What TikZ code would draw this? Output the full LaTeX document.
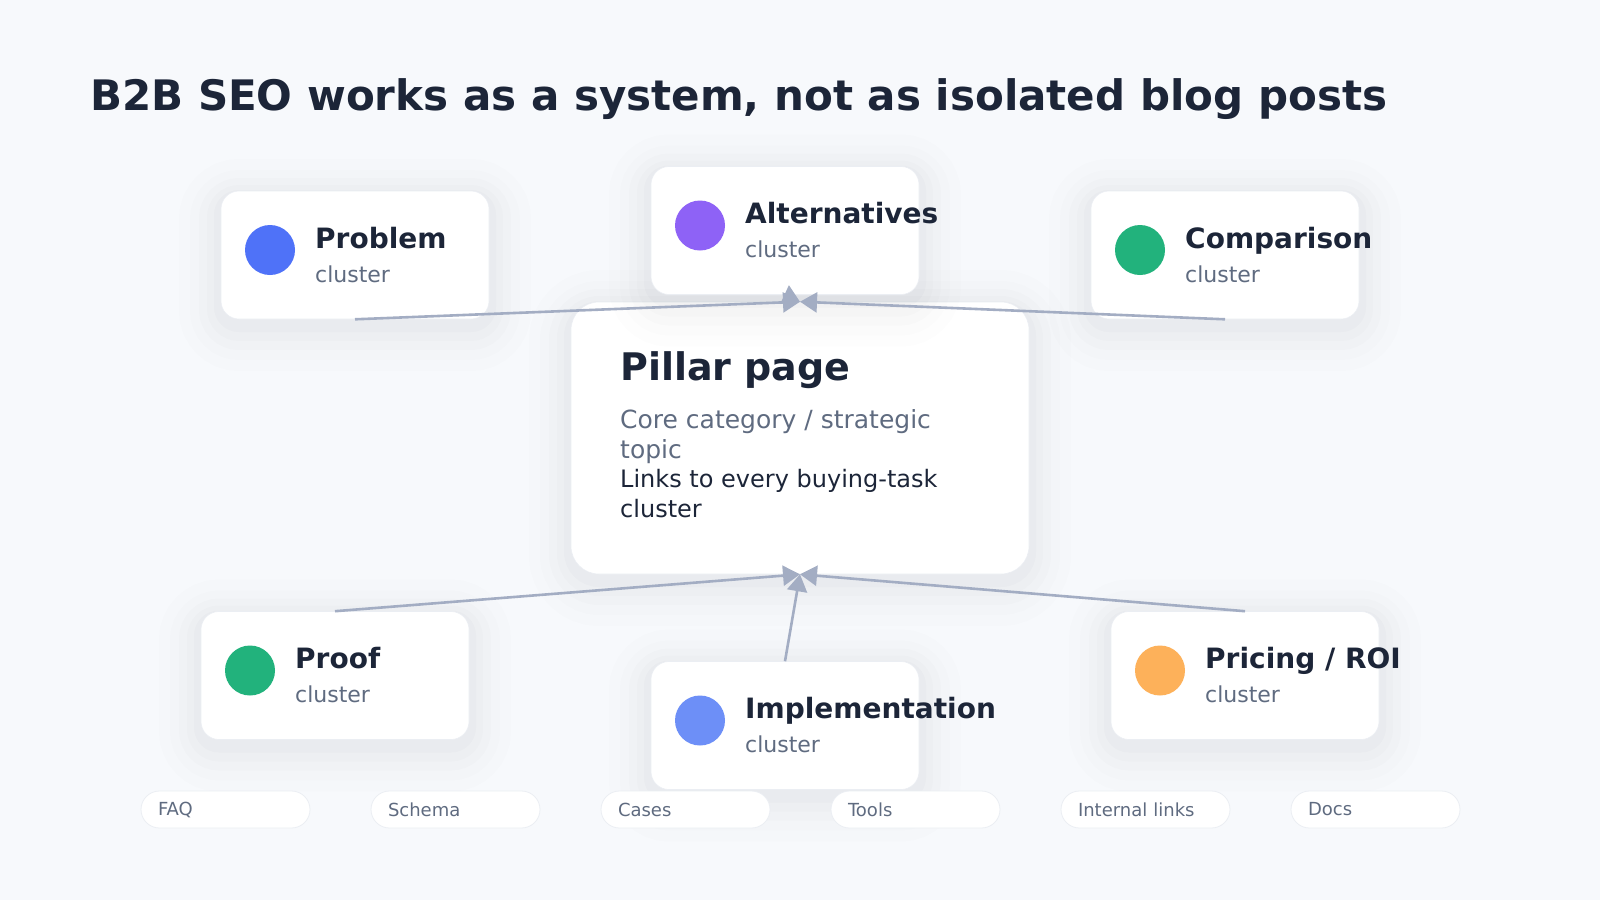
\documentclass[tikz,border=0pt]{standalone}
\usepackage{fontspec}
\setmainfont{DejaVu Sans}
\usetikzlibrary{positioning,arrows.meta,calc}

\definecolor{pagebg}{HTML}{F7F9FC}
\definecolor{ink}{HTML}{1C2538}
\definecolor{muted}{HTML}{5F6B80}
\definecolor{edgegray}{HTML}{A3ADC3}
\definecolor{cardline}{HTML}{EBEEF3}
\definecolor{shade}{HTML}{1C2538}
\definecolor{cblue}{HTML}{4F72F8}
\definecolor{cpurple}{HTML}{8E62F6}
\definecolor{cgreen}{HTML}{22B27C}
\definecolor{corange}{HTML}{FDB15A}
\definecolor{clblue}{HTML}{6D8FF7}

\tikzset{
  >={Triangle[length=17pt,width=20pt]},
  softshadow/.style={
    preaction={draw=shade,draw opacity=0.008,line width=84pt,transform canvas={yshift=-10pt}},
    preaction={draw=shade,draw opacity=0.009,line width=62pt,transform canvas={yshift=-10pt}},
    preaction={draw=shade,draw opacity=0.010,line width=44pt,transform canvas={yshift=-9pt}},
    preaction={draw=shade,draw opacity=0.012,line width=28pt,transform canvas={yshift=-8pt}},
    preaction={draw=shade,draw opacity=0.014,line width=14pt,transform canvas={yshift=-6pt}}},
  card/.style={rounded corners=18pt,fill=white,draw=cardline,line width=0.6pt,
    minimum width=268pt,minimum height=128pt,inner sep=0pt,softshadow},
  pillarbox/.style={card,rounded corners=28pt,minimum width=458pt,minimum height=272pt},
  dot/.style={circle,inner sep=0pt,minimum size=50pt},
  cardttl/.style={anchor=base west,inner sep=0pt,text=ink,
    font=\fontsize{28}{34}\selectfont\bfseries},
  cardsub/.style={anchor=base west,inner sep=0pt,text=muted,
    font=\fontsize{22}{26}\selectfont},
  pill/.style={rounded corners=18.5pt,fill=white,draw=cardline,line width=0.8pt,
    minimum width=169pt,minimum height=37pt,text width=135pt,align=left,
    inner xsep=17pt,inner ysep=0pt,text=muted,font=\fontsize{18}{22}\selectfont},
  link/.style={->,draw=edgegray,fill=edgegray,line width=2.6pt},
}

\begin{document}
\begin{tikzpicture}[x=1pt,y=-1pt]
  \fill[pagebg] (0,0) rectangle (1600,900);
  \useasboundingbox (0,0) rectangle (1600,900);

  \node[anchor=base west,inner sep=0pt,text=ink,font=\fontsize{42}{50}\selectfont\bfseries]
    (title) at (90,110) {B2B SEO works as a system, not as isolated blog posts};

  % pillar
  \node[pillarbox] (pillar) at (800,438) {};
  \node[anchor=base west,inner sep=0pt,text=ink,font=\fontsize{38}{46}\selectfont\bfseries]
    (pillarttl) at (620,380) {Pillar page};
  \node[anchor=base west,inner sep=0pt,text=muted,align=left,
    font=\fontsize{25}{29.5}\selectfont] (pillarsub) at (620,458)
    {Core category / strategic\\topic};
  \node[anchor=base west,inner sep=0pt,text=ink,align=left,
    font=\fontsize{24}{29.5}\selectfont] (pillarnote) at (620,517)
    {Links to every buying-task\\cluster};

  % top clusters
  \node[card] (prob) at (355,255) {};
  \node[dot,fill=cblue] (probdot) at ($(prob)+(-85,-5)$) {};
  \node[cardttl] (probttl) at ($(prob)+(-40,-7)$) {Problem};
  \node[cardsub] (probsub) at ($(prob)+(-40,27)$) {cluster};

  \node[card] (alt) at (785,230.5) {};
  \node[dot,fill=cpurple] (altdot) at ($(alt)+(-85,-5)$) {};
  \node[cardttl] (altttl) at ($(alt)+(-40,-7)$) {Alternatives};
  \node[cardsub] (altsub) at ($(alt)+(-40,27)$) {cluster};

  \node[card] (comp) at (1225,255) {};
  \node[dot,fill=cgreen] (compdot) at ($(comp)+(-85,-5)$) {};
  \node[cardttl] (compttl) at ($(comp)+(-40,-7)$) {Comparison};
  \node[cardsub] (compsub) at ($(comp)+(-40,27)$) {cluster};

  % bottom clusters
  \node[card] (proof) at (335,675.5) {};
  \node[dot,fill=cgreen] (proofdot) at ($(proof)+(-85,-5)$) {};
  \node[cardttl] (proofttl) at ($(proof)+(-40,-7)$) {Proof};
  \node[cardsub] (proofsub) at ($(proof)+(-40,27)$) {cluster};

  \node[card] (impl) at (785,725.5) {};
  \node[dot,fill=clblue] (impldot) at ($(impl)+(-85,-5)$) {};
  \node[cardttl] (implttl) at ($(impl)+(-40,-7)$) {Implementation};
  \node[cardsub] (implsub) at ($(impl)+(-40,27)$) {cluster};

  \node[card] (price) at (1245,675.5) {};
  \node[dot,fill=corange] (pricedot) at ($(price)+(-85,-5)$) {};
  \node[cardttl] (pricettl) at ($(price)+(-40,-7)$) {Pricing / ROI};
  \node[cardsub] (pricesub) at ($(price)+(-40,27)$) {cluster};

  % links into the pillar
  \draw[link] (prob.south) -- (pillar.north);
  \draw[link] (alt.south) -- (pillar.north);
  \draw[link] (comp.south) -- (pillar.north);
  \draw[link] (proof.north) -- (pillar.south);
  \draw[link] (impl.north) -- (pillar.south);
  \draw[link] (price.north) -- (pillar.south);

  % supporting assets
  \foreach \lbl [count=\i] in {FAQ,Schema,Cases,Tools,Internal links,Docs}
    \node[pill] (pill\i) at (225.5+230*\i-230,809.5) {\lbl};
\end{tikzpicture}
\end{document}
